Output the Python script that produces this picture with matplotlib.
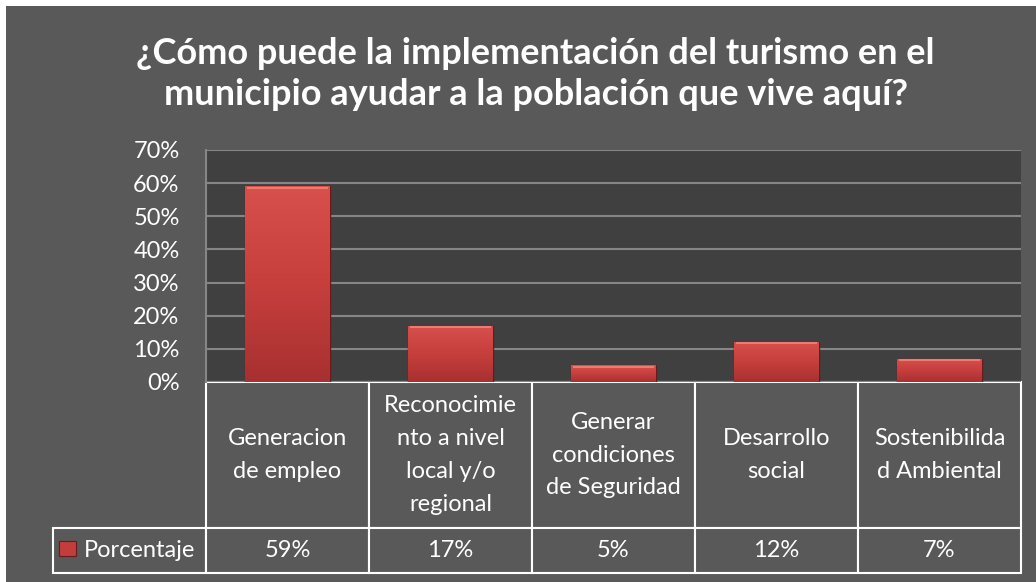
import matplotlib
matplotlib.use("Agg")
import matplotlib.pyplot as plt
from matplotlib.patches import Rectangle
from matplotlib.colors import LinearSegmentedColormap
import numpy as np

# --- data ---
categories = ["Generacion\nde empleo",
              "Reconocimie\nnto a nivel\nlocal y/o\nregional",
              "Generar\ncondiciones\nde Seguridad",
              "Desarrollo\nsocial",
              "Sostenibilida\nd Ambiental"]
values = [59, 17, 5, 12, 7]
value_labels = ["59%", "17%", "5%", "12%", "7%"]
series_name = "Porcentaje"
yticks = [0, 10, 20, 30, 40, 50, 60, 70]
title = "¿Cómo puede la implementación del turismo en el\nmunicipio ayudar a la población que vive aquí?"

plt.rcParams['font.family'] = ['Lato', 'DejaVu Sans']

bg = '#595959'
plot_bg = '#404040'
grid_c = '#868686'

fig = plt.figure(figsize=(10.36, 5.82), dpi=100)
fig.patch.set_facecolor('white')
# gray chart area with a thin white margin at top/left
fig.add_artist(Rectangle((6 / 1036, 0), 1, 1 - 6 / 582, transform=fig.transFigure,
                         facecolor=bg, edgecolor='none', zorder=-10))

ax_w, ax_h = 815, 232  # axes size in pixels
ax = fig.add_axes([206 / 1036, 1 - 382 / 582, ax_w / 1036, ax_h / 582])
ax.set_facecolor(plot_bg)

x = np.arange(len(values))
bars = ax.bar(x, values, width=0.52, color='#c23d3b', edgecolor='#6a1a1a',
              linewidth=1.0, zorder=3)

# vertical gradient on each bar
grad = np.linspace(0, 1, 256).reshape(-1, 1)
cmap = LinearSegmentedColormap.from_list('redgrad', ['#a83030', '#c63f3d', '#d8504c'])
for b in bars:
    x0, w, h = b.get_x(), b.get_width(), b.get_height()
    im = ax.imshow(grad, extent=[x0, x0 + w, 0, h], origin='lower', aspect='auto',
                   cmap=cmap, zorder=3.5)
    im.set_clip_path(b)
    # light top bevel
    ax.plot([x0 + w * 0.02, x0 + w * 0.98], [h - 0.35, h - 0.35], color='#ef7a72',
            lw=1.5, zorder=4, solid_capstyle='butt')

ax.set_xlim(-0.5, len(values) - 0.5)
ax.set_ylim(0, 70)
ax.set_yticks(yticks)
ax.set_yticklabels([f"{t}%" for t in yticks], color='white', fontsize=17)
ax.tick_params(axis='y', length=0, pad=19)
ax.tick_params(axis='x', length=0, labelbottom=False)
ax.yaxis.grid(True, color=grid_c, linewidth=1.5, zorder=1)
ax.set_axisbelow(True)
for s in ['top', 'right', 'bottom']:
    ax.spines[s].set_visible(False)
ax.spines['left'].set_color(grid_c)
ax.spines['left'].set_linewidth(1.5)

# data table below the axis; sizes in axes units
tbl = ax.table(cellText=[value_labels], rowLabels=[series_name], colLabels=categories,
               cellLoc='center', rowLoc='left', loc='bottom')
tbl._autoColumns = []  # keep the fixed row-label width
tbl.auto_set_font_size(False)
for (r, c), cell in tbl.get_celld().items():
    cell.set_facecolor(bg)
    cell.set_edgecolor('white')
    cell.set_linewidth(1.5)
    cell.get_text().set_color('white')
    cell.get_text().set_fontsize(17)
    cell.set_width((153 if c == -1 else 163) / ax_w)
    cell.set_height((146 if r == 0 else 45) / ax_h)
    if r == 0:
        cell.get_text().set_linespacing(1.7)
    if c == -1:
        cell.PAD = 0.2

# legend key inside the row label cell
fig.add_artist(Rectangle((59 / 1036, 1 - 556 / 582), 17 / 1036, 15 / 582,
                         transform=fig.transFigure, facecolor='#c23d3b',
                         edgecolor='#6a1a1a', linewidth=0.8, zorder=5))

fig.text(0.517, 1 - 74 / 582, title, ha='center', va='center', color='white',
         fontsize=26, fontweight='bold', linespacing=1.3)

fig.savefig('out.png', dpi=100, facecolor=fig.get_facecolor())
